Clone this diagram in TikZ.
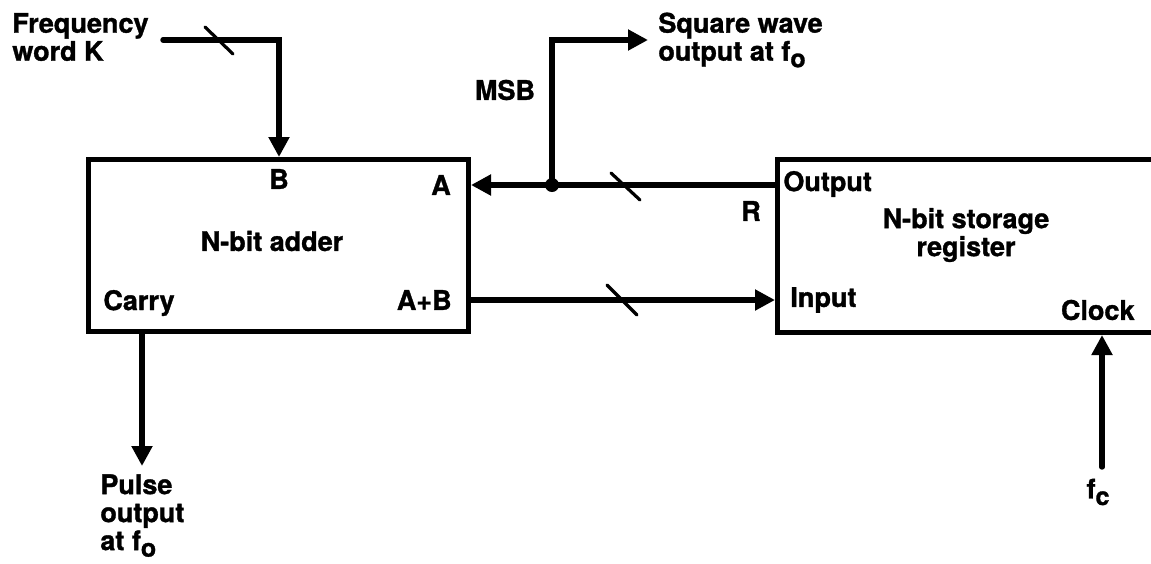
\documentclass[tikz,border=0pt]{standalone}
\usepackage{fontspec}
\setmainfont[BoldFeatures={FakeBold=1.2}]{TeX Gyre Heros}
\usetikzlibrary{arrows.meta}
\newcommand{\lowsub}[1]{\raisebox{-0.45ex}{\fontsize{12.5}{12.5}\selectfont #1}}
\begin{document}
\begin{tikzpicture}[x=0.5pt,y=-0.5pt,
 lbl/.style={font=\fontsize{13.5}{14}\selectfont\bfseries, inner sep=0pt, align=left},
 blk/.style={draw, line width=2.5pt, inner sep=0pt},
 wire/.style={line width=2.7pt, line cap=round},
 arr/.style={wire, -{Triangle[length=10pt,width=10pt]}},
 slash/.style={line width=1.6pt, line cap=round}]
\useasboundingbox (0,0) rectangle (1151,563);
\clip (0,0) rectangle (1151,563);
\node[blk, minimum width=190pt, minimum height=86pt, anchor=north west] (adder) at (86,157) {};
\node[blk, minimum width=200pt, minimum height=86.5pt, anchor=north west] (register) at (775,157) {};
% labels
\node[lbl, anchor=west] (freq) at (12,37) {Frequency\\word K};
\node[lbl] (B) at (279,179) {B};
\node[lbl] (A) at (441,185) {A};
\node[lbl] (msb) at (505,90) {MSB};
\node[lbl, anchor=west] (sq) at (658,40) {Square wave\\output at f\lowsub{o}};
\node[lbl] (R) at (751,211) {R};
\node[lbl, anchor=west] (out) at (783,184) {Output};
\node[lbl, align=center] (nreg) at (966,235) {N-bit storage\\register};
\node[lbl] (nadd) at (272,241) {N-bit adder};
\node[lbl, anchor=west] (carry) at (103,303) {Carry};
\node[lbl, anchor=east] (apb) at (452,300) {A+B};
\node[lbl, anchor=west] (in) at (790,300) {Input};
\node[lbl, anchor=east] (clk) at (1135,310) {Clock};
\node[lbl, anchor=north west] (pulse) at (100,474) {Pulse\\output\\at f\lowsub{o}};
\node[lbl] (fc) at (1098,492) {f\lowsub{c}};
% connectors
\coordinate (fstart) at (163,40);
\coordinate (fcorner) at (279,40);
\draw[arr] (fstart) -- (fcorner) -- (fcorner |- adder.north);
\draw[slash] (205,27) -- (233,54);
\draw[arr] (register.west |- A) -- (adder.east |- A);
\node[circle, fill, inner sep=0pt, minimum size=7pt] (dot) at (552,185) {};
\coordinate (msbc) at (552,40);
\coordinate (sqend) at (648,40);
\draw[arr] (dot.center) -- (msbc) -- (sqend);
\draw[slash] (611,173) -- (640,200);
\draw[arr] (adder.east |- apb) -- (register.west |- apb);
\draw[slash] (607,285) -- (637,315);
\coordinate (ctip) at (142,466);
\draw[arr] (ctip |- adder.south) -- (ctip);
\coordinate (clkbot) at (1102,467);
\draw[arr] (clkbot) -- (clkbot |- register.south);
\end{tikzpicture}
\end{document}
